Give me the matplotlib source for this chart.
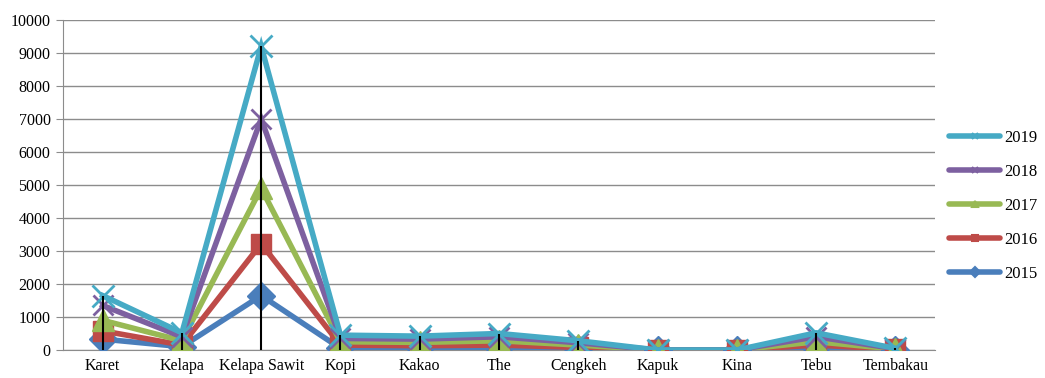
import matplotlib.pyplot as plt
from matplotlib.lines import Line2D

plt.rcParams['font.family'] = ['Liberation Serif', 'DejaVu Serif']
plt.rcParams['font.size'] = 11.5

# data
categories = ['Karet', 'Kelapa', 'Kelapa Sawit', 'Kopi', 'Kakao', 'The',
              'Cengkeh', 'Kapuk', 'Kina', 'Tebu', 'Tembakau']
years = ['2015', '2016', '2017', '2018', '2019']
v2015 = [330, 100, 1650, 50, 50, 60, 30, 0, 0, 50, 10]
v2016 = [580, 150, 3220, 150, 130, 150, 80, 0, 0, 150, 20]
v2017 = [900, 280, 4900, 250, 230, 280, 150, 0, 0, 250, 30]
v2018 = [1350, 400, 7000, 350, 330, 400, 220, 0, 0, 400, 40]
v2019 = [1650, 520, 9200, 450, 420, 500, 280, 0, 0, 520, 50]
series = [v2015, v2016, v2017, v2018, v2019]

colors = ['#4A7EBB', '#BE4B48', '#98B954', '#7D60A0', '#46AAC5']
markers = ['D', 's', '^', 'x', 'x']
msizes = [14, 15, 16, 14, 16]

fig = plt.figure(figsize=(10.45, 3.78), dpi=100)
ax = fig.add_axes([63 / 1045, 1 - 350 / 378, (935 - 63) / 1045, 330 / 378])

x = list(range(len(categories)))
for vals, c, m, ms in zip(series, colors, markers, msizes):
    ax.plot(x, vals, color=c, lw=4, marker=m, markersize=ms,
            markeredgewidth=2 if m == 'x' else 1, markeredgecolor=c,
            solid_joinstyle='miter', zorder=3)

# drop lines from highest point to axis
tops = [max(col) for col in zip(*series)]
ax.vlines(x, 0, tops, color='black', lw=1.5, zorder=5)

ax.set_xlim(-0.5, len(categories) - 0.5)
ax.set_ylim(0, 10000)
ax.set_yticks(range(0, 10001, 1000))
ax.set_xticks(x)
ax.set_xticklabels(categories)
ax.yaxis.grid(True, color='#8c8c8c', lw=1)
ax.set_axisbelow(True)
for s in ['top', 'right']:
    ax.spines[s].set_visible(False)
for s in ['left', 'bottom']:
    ax.spines[s].set_color('#8c8c8c')
ax.tick_params(axis='y', color='#8c8c8c', length=5, pad=4)
ax.tick_params(axis='x', length=0, pad=6)

handles = [Line2D([], [], color=c, lw=4, marker=m, markersize=5,
                  markeredgewidth=1.5, markeredgecolor=c, solid_capstyle='round')
           for c, m in zip(colors, markers)]
fig.legend(handles[::-1], years[::-1], loc='upper left',
           bbox_to_anchor=(937 / 1045, 1 - 118 / 378), frameon=False,
           handlelength=3.1, labelspacing=1.08, handletextpad=0.25,
           borderaxespad=0.3, fontsize=12)

fig.savefig('out.png', dpi=100)
